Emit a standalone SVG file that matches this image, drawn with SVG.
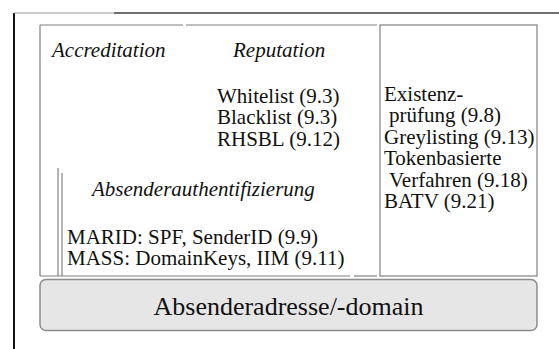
<svg xmlns="http://www.w3.org/2000/svg" width="559" height="349" viewBox="0 0 559 349">
  <style>
    text { font-family: "Liberation Serif", "Times New Roman", serif; fill: #111; }
    .t { font-size: 21px; }
    .it { font-size: 21px; font-style: italic; }
    .big { font-size: 26px; }
    .ln { stroke: #808080; stroke-width: 1.2; fill: none; }
  </style>
  <rect width="559" height="349" fill="#ffffff"/>
  <g id="frame">
    <line x1="14" y1="13" x2="14" y2="349" stroke="#111" stroke-width="2"/>
    <line x1="14" y1="13" x2="114" y2="13" stroke="#999" stroke-width="1.2"/>
    <line x1="114" y1="13" x2="559" y2="13" stroke="#707070" stroke-width="1.8"/>
  </g>
  <g id="connectors">
    <line class="ln" x1="40" y1="25" x2="40" y2="276"/>
    <line class="ln" x1="40" y1="25" x2="183" y2="25"/>
    <line class="ln" x1="186" y1="25" x2="377" y2="25"/>
    <line class="ln" x1="40" y1="276" x2="350" y2="276"/>
    <line class="ln" x1="354" y1="276" x2="377" y2="276"/>
    <line class="ln" x1="58" y1="168" x2="58" y2="276"/>
    <line class="ln" x1="62" y1="173" x2="62" y2="276"/>
  </g>
  <g id="accreditation">
    <text class="it" x="52" y="57">Accreditation</text>
  </g>
  <g id="reputation">
    <text class="it" x="233" y="57">Reputation</text>
    <text class="t" x="217" y="102.5">Whitelist (9.3)</text>
    <text class="t" x="217" y="124">Blacklist (9.3)</text>
    <text class="t" x="217" y="145.5">RHSBL (9.12)</text>
  </g>
  <g id="absenderauthentifizierung">
    <text class="it" x="92" y="196">Absenderauthentifizierung</text>
    <text class="t" x="67" y="244">MARID: SPF, SenderID (9.9)</text>
    <text class="t" x="67" y="265">MASS: DomainKeys, IIM (9.11)</text>
  </g>
  <g id="other">
    <rect class="ln" x="380" y="25" width="157" height="251"/>
    <text class="t" x="384" y="100.5">Existenz-</text>
    <text class="t" x="389" y="122">prüfung (9.8)</text>
    <text class="t" x="384" y="143.5">Greylisting (9.13)</text>
    <text class="t" x="384" y="165">Tokenbasierte</text>
    <text class="t" x="389" y="186.5">Verfahren (9.18)</text>
    <text class="t" x="384" y="208">BATV (9.21)</text>
  </g>
  <g id="absenderadresse">
    <rect x="40" y="279.5" width="497" height="51" rx="6" ry="6" fill="#e6e6e6" stroke="#8c8c8c" stroke-width="1.5"/>
    <text class="big" x="288.5" y="314.5" text-anchor="middle">Absenderadresse/-domain</text>
  </g>
</svg>
